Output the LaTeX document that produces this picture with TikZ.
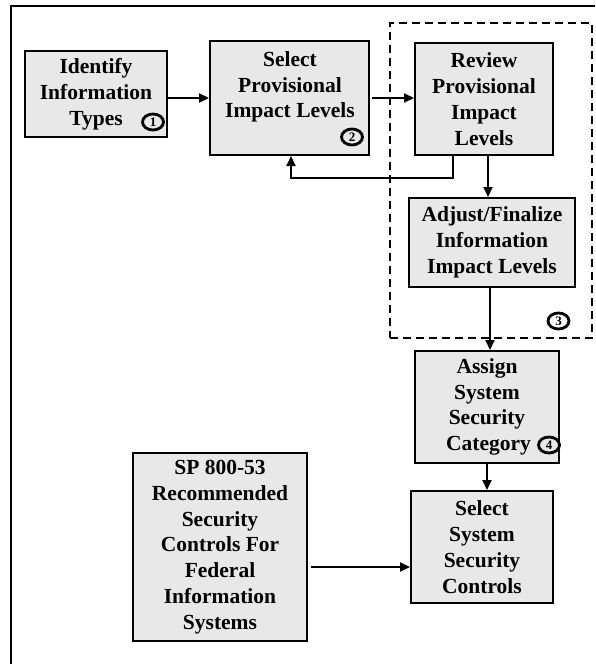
\documentclass[tikz,border=0pt]{standalone}
\usepackage{fontspec}
\setmainfont{Liberation Serif}
\usetikzlibrary{arrows.meta,shapes.geometric}
\definecolor{boxgray}{HTML}{E8E8E8}
\begin{document}
\begin{tikzpicture}[x=1pt,y=-1pt,
  txt/.style={font=\fontsize{21.5}{25.8}\selectfont\bfseries,align=center,inner sep=0pt},
  box/.style={txt,draw,line width=2pt,fill=boxgray},
  arr/.style={line width=2pt,-{Triangle[length=10pt,width=9pt]}},
  num/.style={ellipse,draw,line width=2.8pt,minimum width=21pt,minimum height=16pt,inner sep=0pt,
    font=\fontsize{13}{13}\selectfont\bfseries},
  grpbox/.style={draw,line width=1.8pt,dash pattern=on 8pt off 5pt,inner sep=0pt}]
\useasboundingbox (0,0) rectangle (595,664);
% outer frame (top and left edges visible)
\coordinate (fTL) at (11,6);
\draw[line width=2pt] (595,6) -- (fTL) -- (11,664);
% group of step 3
\node[grpbox,minimum width=202pt,minimum height=315pt] (grp) at (491,180.5) {};
% boxes
\node[box,minimum width=142pt,minimum height=86pt] (b1) at (96,94) {Identify\\Information\\Types};
\node[box,minimum width=159pt,minimum height=114pt] (b2) at (289.5,98) {};
\node[txt] (t2) at (290,87) {Select\\Provisional\\Impact Levels};
\node[box,minimum width=138pt,minimum height=112pt] (b3) at (484,99) {Review\\Provisional\\Impact\\Levels};
\node[box,minimum width=166pt,minimum height=89pt] (b4) at (492,242.5) {Adjust/Finalize\\Information\\Impact Levels};
\node[box,minimum width=144pt,minimum height=112pt] (b5) at (487,407) {Assign\\System\\Security\\\hspace*{3pt}Category};
\node[box,minimum width=142pt,minimum height=112pt] (b6) at (482,547) {Select\\System\\Security\\Controls};
\node[box,minimum width=174pt,minimum height=188pt] (b7) at (220,547) {SP 800-53\\Recommended\\Security\\Controls For\\Federal\\Information\\Systems};
% step numbers
\node[num] (n1) at (153,122) {1};
\node[num] (n2) at (352,137) {2};
\node[num] (n3) at (558.5,321) {3};
\node[num] (n4) at (549,445) {4};
% connectors
\draw[arr] (b1.east |- b2.west) -- (b2.west);
\draw[arr,shorten <=2pt] (b2.east) -- (b3.west |- b2.east);
\coordinate (fb) at (291,178);
\draw[arr] ([xshift=-31pt]b3.south) |- (fb) -- (fb |- b2.south);
\coordinate (xa) at (488,0);
\draw[arr] (b3.south -| xa) -- (b4.north -| xa);
\coordinate (xb) at (490,0);
\draw[arr] (b4.south -| xb) -- (b5.north -| xb);
\draw[arr] (b5.south) -- (b6.north -| b5.south);
\coordinate (ys) at (0,567);
\draw[arr,shorten <=3pt] (b7.east |- ys) -- (b6.west |- ys);
\end{tikzpicture}
\end{document}
